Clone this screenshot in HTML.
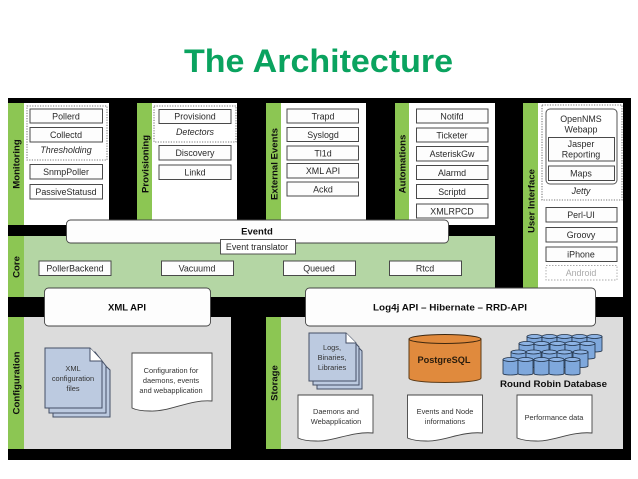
<!DOCTYPE html>
<html><head><meta charset="utf-8"><style>
html,body{margin:0;padding:0;background:#fff;width:638px;height:479px;overflow:hidden}
svg{display:block}
text{font-family:"Liberation Sans",sans-serif}
.b{fill:#fdfdfd;stroke:#4a4a4a;stroke-width:1}
.t{font-size:8.900px;fill:#2a2a2a;text-anchor:middle}
.i{font-size:8.900px;fill:#2a2a2a;text-anchor:middle;font-style:italic}
.s{font-size:7.400px;fill:#333;text-anchor:middle}
.h{font-size:9.500px;font-weight:bold;fill:#111;text-anchor:middle}
.v{font-size:9.600px;font-weight:bold;fill:#111;text-anchor:middle}
.g{fill:#8cc653}
.d{fill:none;stroke:#777;stroke-width:1.100;stroke-dasharray:1.200 1.400}
.r{fill:#fdfdfd;stroke:#444;stroke-width:.9}
.p{fill:#fff;stroke:#444;stroke-width:.9}
.q{fill:#bccae0;stroke:#445066;stroke-width:1}
</style></head><body>
<svg width="638" height="479" viewBox="0 0 638 479" xmlns="http://www.w3.org/2000/svg">
<defs>
<filter id="f" x="0" y="0" width="100%" height="100%"><feGaussianBlur stdDeviation="0.35"/></filter>
<g id="c"><path d="M0 2.500V16.500C0 18.500 15 18.500 15 16.500V2.500Z" fill="#7fa8dc" stroke="#1f2f45" stroke-width=".8"/><ellipse cx="7.500" cy="2.500" rx="7.500" ry="2" fill="#8db3e4" stroke="#1f2f45" stroke-width=".8"/></g>
</defs>
<rect width="638" height="479" fill="#fff"/>
<text x="318.500" y="72" font-size="32" font-weight="bold" fill="#0aa35f" text-anchor="middle" textLength="269" lengthAdjust="spacingAndGlyphs">The Architecture</text>
<g filter="url(#f)">
<rect x="8" y="98" width="623" height="362" fill="#000"/>

<rect x="8" y="103" width="16" height="122" class="g"/><rect x="24" y="103" width="85" height="122" fill="#fff"/>
<rect x="137" y="103" width="15" height="122" class="g"/><rect x="152" y="103" width="85" height="122" fill="#fff"/>
<rect x="266" y="103" width="15" height="122" class="g"/><rect x="281" y="103" width="85" height="122" fill="#fff"/>
<rect x="395" y="103" width="14" height="122" class="g"/><rect x="409" y="103" width="86" height="122" fill="#fff"/>
<rect x="523" y="103" width="15" height="194" class="g"/><rect x="538" y="103" width="85" height="194" fill="#fff"/>
<rect x="8" y="236" width="16" height="61" class="g"/><rect x="24" y="236" width="471" height="61" fill="#b4d6a4"/>
<rect x="8" y="317" width="16" height="132" class="g"/><rect x="24" y="317" width="207" height="132" fill="#dcdcdc"/>
<rect x="266" y="317" width="15" height="132" class="g"/><rect x="281" y="317" width="342" height="132" fill="#dcdcdc"/>

<text class="v" transform="translate(19.500,164) rotate(-90)">Monitoring</text>
<text class="v" transform="translate(148.500,164) rotate(-90)">Provisioning</text>
<text class="v" transform="translate(277.500,164) rotate(-90)">External Events</text>
<text class="v" transform="translate(405.500,164) rotate(-90)">Automations</text>
<text class="v" transform="translate(534.500,201) rotate(-90)">User Interface</text>
<text class="v" transform="translate(19.500,267) rotate(-90)">Core</text>
<text class="v" transform="translate(19.500,383) rotate(-90)">Configuration</text>
<text class="v" transform="translate(277.500,383) rotate(-90)">Storage</text>

<rect x="27" y="106" width="80" height="54" class="d"/>
<rect x="30" y="109" width="72.500" height="14" class="b"/><text class="t" x="66" y="119.500">Pollerd</text>
<rect x="30" y="127.500" width="72.500" height="14.500" class="b"/><text class="t" x="66" y="138">Collectd</text>
<text class="i" x="66" y="153">Thresholding</text>
<rect x="30" y="164.500" width="72.500" height="14.500" class="b"/><text class="t" x="66" y="175">SnmpPoller</text>
<rect x="30" y="184.500" width="72.500" height="14.500" class="b"/><text class="t" x="66" y="195">PassiveStatusd</text>

<rect x="154" y="106" width="82" height="36" class="d"/>
<rect x="159" y="109.500" width="72" height="14" class="b"/><text class="t" x="195" y="119.500">Provisiond</text>
<text class="i" x="195" y="135">Detectors</text>
<rect x="159" y="145.500" width="72" height="14.500" class="b"/><text class="t" x="195" y="156">Discovery</text>
<rect x="159" y="165" width="72" height="14.500" class="b"/><text class="t" x="195" y="175.500">Linkd</text>

<rect x="287" y="109" width="71.500" height="14" class="b"/><text class="t" x="323" y="119.500">Trapd</text>
<rect x="287" y="127.500" width="71.500" height="14" class="b"/><text class="t" x="323" y="138">Syslogd</text>
<rect x="287" y="146" width="71.500" height="14" class="b"/><text class="t" x="323" y="156.500">Tl1d</text>
<rect x="287" y="163.500" width="71.500" height="14.500" class="b"/><text class="t" x="323" y="174">XML API</text>
<rect x="287" y="182" width="71.500" height="14" class="b"/><text class="t" x="323" y="192.500">Ackd</text>

<rect x="416.500" y="109" width="71.500" height="14" class="b"/><text class="t" x="452" y="119.500">Notifd</text>
<rect x="416.500" y="128" width="71.500" height="14" class="b"/><text class="t" x="452" y="138.500">Ticketer</text>
<rect x="416.500" y="146.500" width="71.500" height="14.500" class="b"/><text class="t" x="452" y="157">AsteriskGw</text>
<rect x="416.500" y="165.500" width="71.500" height="14" class="b"/><text class="t" x="452" y="176">Alarmd</text>
<rect x="416.500" y="184.500" width="71.500" height="14" class="b"/><text class="t" x="452" y="195">Scriptd</text>
<rect x="416.500" y="204" width="71.500" height="14" class="b"/><text class="t" x="452" y="214.500">XMLRPCD</text>

<rect x="542" y="105" width="80" height="95" class="d"/>
<rect x="546" y="109" width="71" height="75" rx="4" fill="#fff" stroke="#555" stroke-width="1"/>
<text class="t" x="581" y="122">OpenNMS</text><text class="t" x="581" y="132.500">Webapp</text>
<rect x="548.500" y="137.500" width="66" height="23.500" class="b"/><text class="t" x="581" y="147">Jasper</text><text class="t" x="581" y="157.500">Reporting</text>
<rect x="548.500" y="166" width="66" height="14.500" class="b"/><text class="t" x="581" y="176.500">Maps</text>
<text class="i" x="581" y="194">Jetty</text>
<rect x="546" y="207.500" width="71" height="14.500" class="b"/><text class="t" x="581" y="218">Perl-UI</text>
<rect x="546" y="227.500" width="71" height="14.500" class="b"/><text class="t" x="581" y="238">Groovy</text>
<rect x="546" y="247" width="71" height="14.500" class="b"/><text class="t" x="581" y="257.500">iPhone</text>
<rect x="546" y="265.500" width="71" height="14.500" fill="none" stroke="#aaa" stroke-width=".9" stroke-dasharray="1.500 1.500"/><text class="t" x="581" y="276" style="fill:#aaa">Android</text>

<rect x="39" y="261" width="72" height="14.500" class="b"/><text class="t" x="75" y="271.500">PollerBackend</text>
<rect x="161.500" y="261" width="72" height="14.500" class="b"/><text class="t" x="197" y="271.500">Vacuumd</text>
<rect x="283.500" y="261" width="72" height="14.500" class="b"/><text class="t" x="319" y="271.500">Queued</text>
<rect x="389.500" y="261" width="72" height="14.500" class="b"/><text class="t" x="425" y="271.500">Rtcd</text>

<rect x="66.500" y="220" width="382" height="23" rx="4" class="r"/>
<text class="h" x="257" y="234.500">Eventd</text>
<rect x="220.500" y="239.500" width="75" height="14.500" class="p"/><text class="t" x="257" y="250">Event translator</text>

<rect x="44.500" y="288" width="166" height="38" rx="4" class="r"/><text class="h" x="127" y="310.500">XML API</text>
<rect x="305.500" y="288" width="290" height="38" rx="4" class="r"/><text class="h" x="450" y="310.500" textLength="154" lengthAdjust="spacingAndGlyphs">Log4j API – Hibernate – RRD-API</text>

<path d="M53 356H95L110 370V417H53Z" class="q"/>
<path d="M49 352H95L106 366V413H49Z" class="q"/>
<path d="M45 348H90L102 361V408H45Z" class="q"/>
<path d="M90 348V361H102" fill="#fff" stroke="#445066" stroke-width="1"/>
<text class="s" x="73" y="371">XML</text><text class="s" x="73" y="381">configuration</text><text class="s" x="73" y="391">files</text>

<path d="M132 353H212V401C190 399 170 412 150 411C142 411 136 410 132 408Z" class="p"/>
<text class="s" x="171" y="373">Configuration for</text><text class="s" x="171" y="383">daemons, events</text><text class="s" x="171" y="393">and webapplication</text>

<path d="M317 341H352L362 351V389H317Z" class="q"/>
<path d="M313 337H350L359 347V385H313Z" class="q"/>
<path d="M309 333H346L356 343V381H309Z" class="q"/>
<path d="M346 333V343H356" fill="#fff" stroke="#445066" stroke-width="1"/>
<text class="s" x="332" y="350">Logs,</text><text class="s" x="332" y="360">Binaries,</text><text class="s" x="332" y="370">Libraries</text>

<path d="M298 395H373V433C352 431 332 442 316 441C308 441 302 440 298 438Z" class="p"/>
<text class="s" x="336" y="414">Daemons and</text><text class="s" x="336" y="424">Webapplication</text>
<path d="M407.500 395H482.500V433C462 431 442 442 426 441C418 441 412 440 407.500 438Z" class="p"/>
<text class="s" x="445" y="414">Events and Node</text><text class="s" x="445" y="424">informations</text>
<path d="M517 395H592V433C572 431 552 442 536 441C528 441 522 440 517 438Z" class="p"/>
<text class="s" x="554" y="420">Performance data</text>

<path d="M409 339V378C409 384 481 384 481 378V339Z" fill="#e08a3c" stroke="#5b3a18" stroke-width="1"/>
<ellipse cx="445" cy="339" rx="36" ry="4.500" fill="#e08a3c" stroke="#3d2610" stroke-width="1"/>
<text x="444" y="363" font-size="9.200" font-weight="bold" fill="#2c1e0e" text-anchor="middle">PostgreSQL</text>

<use href="#c" x="527" y="334"/><use href="#c" x="542" y="334"/><use href="#c" x="557" y="334"/><use href="#c" x="572" y="334"/><use href="#c" x="587" y="334"/>
<use href="#c" x="519" y="341"/><use href="#c" x="534" y="341"/><use href="#c" x="550" y="341"/><use href="#c" x="565" y="341"/><use href="#c" x="580" y="341"/>
<use href="#c" x="511" y="349.500"/><use href="#c" x="526" y="349.500"/><use href="#c" x="542" y="349.500"/><use href="#c" x="557" y="349.500"/><use href="#c" x="573" y="349.500"/>
<use href="#c" x="503" y="357"/><use href="#c" x="518" y="357"/><use href="#c" x="534" y="357"/><use href="#c" x="549" y="357"/><use href="#c" x="565" y="357"/>
<text x="553.500" y="387" font-size="9.500" font-weight="bold" fill="#111" text-anchor="middle" textLength="107" lengthAdjust="spacingAndGlyphs">Round Robin Database</text>
</g>
</svg>
</body></html>
